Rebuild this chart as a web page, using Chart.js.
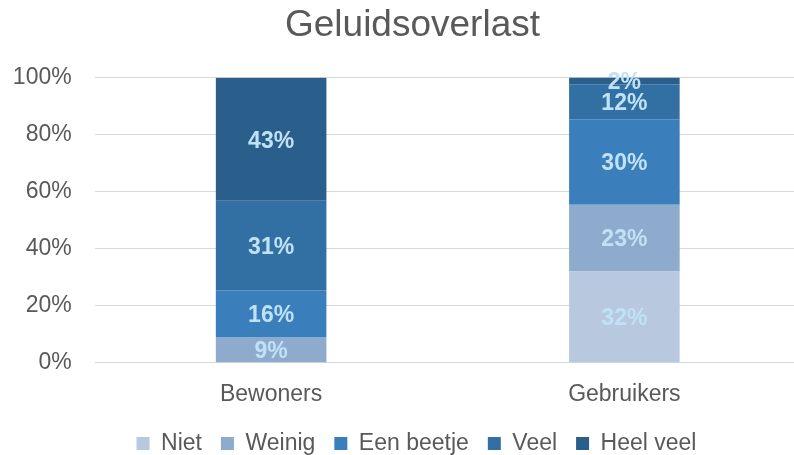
<!DOCTYPE html>
<html lang="nl">
<head>
  <meta charset="UTF-8" />
  <title>Geluidsoverlast</title>
  <script src="https://cdn.jsdelivr.net/npm/chart.js"></script>
  <style>
    html, body { margin: 0; padding: 0; overflow: hidden; background: #fff; }
    #chart { display: block; }
  </style>
</head>
<body>
<canvas id="chart" width="801" height="455"></canvas>
<script>
  // data (percent)
  const groups = ['Bewoners', 'Gebruikers'];
  const niet      = [0,    32.0];
  const weinig    = [9.0,  23.4];
  const eenBeetje = [16.4, 29.9];
  const veel      = [31.4, 12.3];
  const heelVeel  = [43.1, 2.4];
  const yTicks = [0, 20, 40, 60, 80, 100];

  const textColor = '#595959';
  const fontFamily = '"Liberation Sans", Arial, sans-serif';

  // labels in the middle of every segment
  const segmentLabels = {
    id: 'segmentLabels',
    afterDatasetsDraw(chart) {
      const ctx = chart.ctx;
      ctx.save();
      ctx.font = 'bold 23px ' + fontFamily;
      ctx.fillStyle = '#c0e2f6';
      ctx.textAlign = 'center';
      ctx.textBaseline = 'middle';
      chart.data.datasets.forEach((ds, i) => {
        const meta = chart.getDatasetMeta(i);
        meta.data.forEach((bar, j) => {
          const v = ds.data[j];
          if (!v) return;
          ctx.fillText(Math.round(v) + '%', bar.x, (bar.y + bar.base) / 2 + 2);
        });
      });
      ctx.restore();
    }
  };

  // title and legend sit a bit right of the canvas centre in the original
  const nudge = {
    id: 'nudge',
    afterLayout(chart) {
      const shift = (box, dx) => { if (box) { box.left += dx; box.right += dx; } };
      shift(chart.titleBlock, 6);
      shift(chart.legend, 10);
    }
  };

  const ds = (label, data, color) => ({
    label: label,
    data: data,
    backgroundColor: color,
    borderWidth: 0,
    categoryPercentage: 1,
    barPercentage: 0.313
  });

  new Chart(document.getElementById('chart'), {
    type: 'bar',
    data: {
      labels: groups,
      datasets: [
        ds('Niet', niet, '#b8c8df'),
        ds('Weinig', weinig, '#8eaacd'),
        ds('Een beetje', eenBeetje, '#3a7fbb'),
        ds('Veel', veel, '#3270a4'),
        ds('Heel veel', heelVeel, '#2b5f8b')
      ]
    },
    options: {
      responsive: false,
      animation: false,
      layout: { padding: { left: 12, right: 0, top: 0, bottom: -10 } },
      plugins: {
        title: {
          display: true,
          text: 'Geluidsoverlast',
          color: textColor,
          font: { family: fontFamily, size: 37, weight: 'normal' },
          padding: { top: 4, bottom: 29 }
        },
        legend: {
          position: 'bottom',
          labels: {
            color: textColor,
            font: { family: fontFamily, size: 23 },
            boxWidth: 13,
            boxHeight: 13,
            padding: 19
          }
        },
        tooltip: { enabled: false }
      },
      scales: {
        x: {
          stacked: true,
          grid: { display: false },
          border: { display: false },
          ticks: {
            color: textColor,
            font: { family: fontFamily, size: 23 },
            padding: 10.5
          },
          afterFit(scale) { scale.height = 50.3; }
        },
        y: {
          stacked: true,
          min: 0,
          max: 100,
          afterBuildTicks(scale) { scale.ticks = yTicks.map(v => ({ value: v })); },
          grid: { color: '#d9d9d9', lineWidth: 1, drawTicks: false },
          border: { display: false },
          ticks: {
            color: textColor,
            font: { family: fontFamily, size: 23 },
            padding: 22.8,
            callback: v => v + '%'
          },
          afterFit(scale) { scale.width = 82.5; }
        }
      }
    },
    plugins: [segmentLabels, nudge]
  });
</script>
</body>
</html>
